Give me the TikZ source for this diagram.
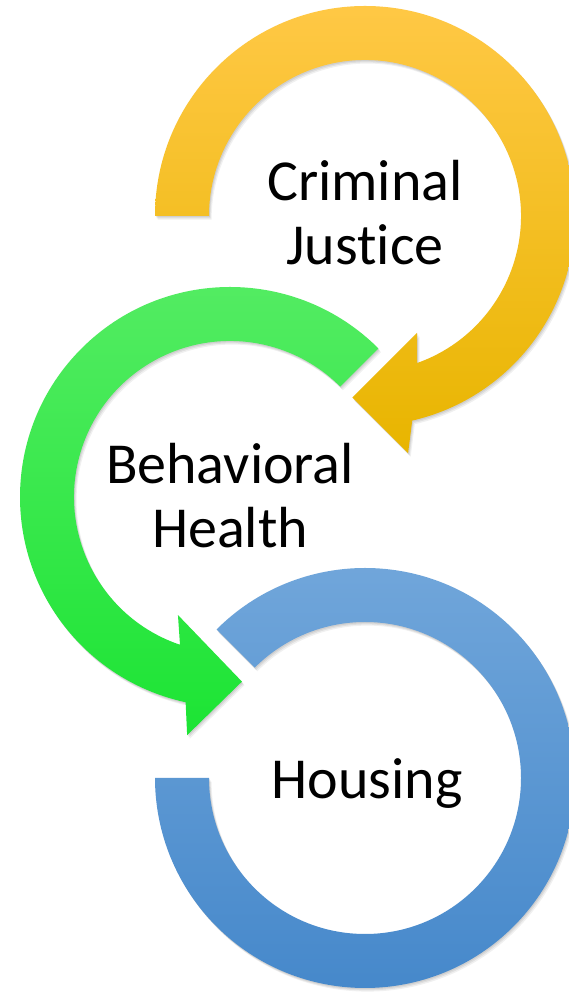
\documentclass[tikz,border=0pt]{standalone}
\usepackage{fontspec}
\setmainfont{Carlito}[Ligatures=NoCommon]
\definecolor{orTop}{HTML}{FFC845}
\definecolor{orMid}{HTML}{FFC400}
\definecolor{orBot}{HTML}{E8B500}
\definecolor{grTop}{HTML}{55EC64}
\definecolor{grMid}{HTML}{2BEC40}
\definecolor{grBot}{HTML}{1CE434}
\definecolor{blTop}{HTML}{72A7DB}
\definecolor{blMid}{HTML}{5A98D6}
\definecolor{blBot}{HTML}{4487CA}
\tikzset{
  softshadow/.style={
    preaction={fill=black,opacity=0.07,transform canvas={xshift=0.8pt,yshift=-1.2pt}},
    preaction={fill=black,opacity=0.07,transform canvas={xshift=1.6pt,yshift=-2.4pt}},
    preaction={fill=black,opacity=0.06,transform canvas={xshift=2.6pt,yshift=-3.6pt}}},
  labeltext/.style={font=\fontsize{58}{64}\selectfont, align=center, anchor=base, inner sep=0pt, text=black}
}
\begin{document}
\begin{tikzpicture}[x=1pt,y=1pt]
\clip (0,0) rectangle (569,992);
\fill[white] (0,0) rectangle (569,992);
% Orange arrow (Criminal Justice)
\begin{scope}[shift={(365,776)}]
\path[softshadow, top color=orTop, middle color=orMid, bottom color=orBot]
  (180:210) arc[start angle=180, end angle=-77, radius=210]
  -- (-79.7:241) -- (-94:182) -- (-66:128) -- (-70.5:156)
  arc[start angle=-70.5, end angle=180, radius=156] -- cycle;
\end{scope}
% Green arrow (Behavioral Health)
\begin{scope}[shift={(230,495)}]
\path[softshadow, top color=grTop, middle color=grMid, bottom color=grBot]
  (45:210) arc[start angle=45, end angle=257.8, radius=210]
  -- (259.8:242) -- (273.7:185) -- (246.2:129) -- (251.3:156)
  arc[start angle=251.3, end angle=45, radius=156] -- cycle;
\end{scope}
% Blue ring (Housing)
\begin{scope}[shift={(365,214)}]
\path[softshadow, top color=blTop, middle color=blMid, bottom color=blBot]
  (135:210) arc[start angle=135, end angle=-180, radius=210]
  -- (180:156) arc[start angle=-180, end angle=135, radius=156] -- cycle;
\end{scope}
\node[labeltext] (cj) at (365,727) {Criminal\\Justice};
\node[labeltext] (bh) at (230,444) {Behavioral\\Health};
\node[labeltext] (ho) at (367,193) {Housing};
\end{tikzpicture}
\end{document}
